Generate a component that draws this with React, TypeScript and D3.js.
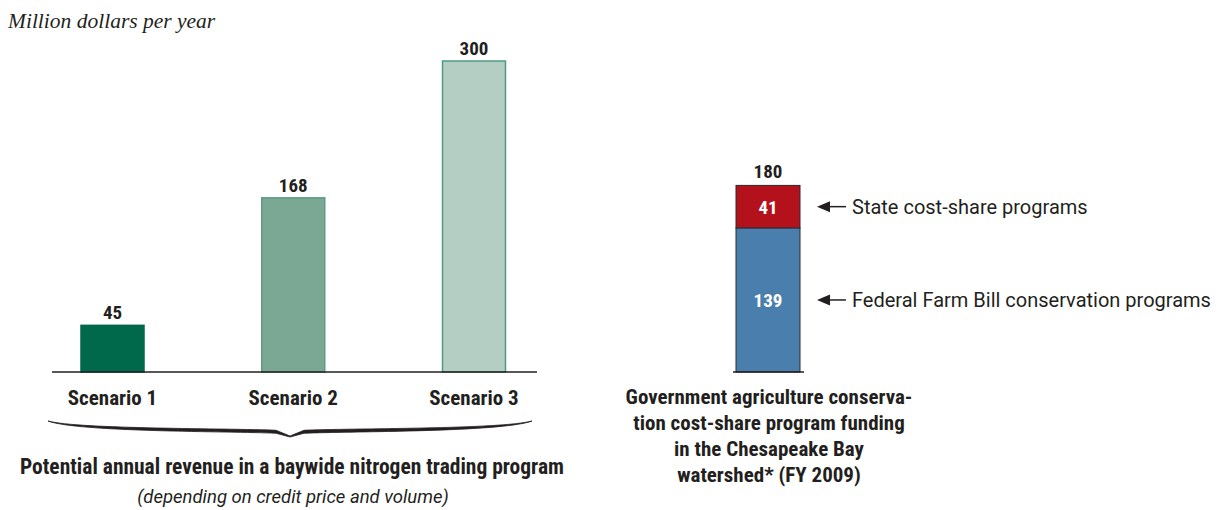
import * as d3 from "d3";

// left chart: potential trading revenue
const scenarios = ["Scenario 1", "Scenario 2", "Scenario 3"];
const revenue = [45, 168, 300];
const scenarioFill = ["#00684b", "#7aa894", "#b4cec4"];
const scenarioStroke = ["#00684b", "#5c9b83", "#4f9a81"];

// right chart: government cost-share funding
const fundingParts = ["Federal Farm Bill conservation programs", "State cost-share programs"];
const fundingValues = [139, 41];
const fundingFill = ["#4a7fad", "#b3121c"];
const fundingTotal = 180;

const captionLines = [
  "Government agriculture conserva-",
  "tion cost-share program funding",
  "in the Chesapeake Bay",
  "watershed* (FY 2009)",
];

const INK = "#231f20";
const COND = "Roboto, 'DejaVu Sans Condensed', sans-serif";

function bracePath(x0: number, x1: number, y: number, h: number) {
  const mid = (x0 + x1) / 2;
  const q = h * 0.55;
  return [
    `M${x0},${y}`,
    `C${x0 + 30},${y + q} ${mid - 60},${y + q - 1} ${mid - 14},${y + q + 1}`,
    `L${mid},${y + h}`,
    `L${mid + 14},${y + q + 1}`,
    `C${mid + 60},${y + q - 1} ${x1 - 30},${y + q} ${x1},${y}`,
    `C${x1 - 30},${y + q + 3} ${mid + 60},${y + q + 2} ${mid + 14},${y + q + 4}`,
    `L${mid},${y + h + 1}`,
    `L${mid - 14},${y + q + 4}`,
    `C${mid - 60},${y + q + 2} ${x0 + 30},${y + q + 3} ${x0},${y}`,
    "Z",
  ].join(" ");
}

const bold = { fontFamily: COND, fontWeight: "bold" as const, fontStretch: "condensed", fill: INK };

export default function App() {
  const W = 1219;
  const H = 510;
  const base = 372;

  const y = d3.scaleLinear().domain([0, 300]).range([base, 61]);
  const x = d3.scalePoint<string>().domain(scenarios).range([112.5, 474]);
  const bw = 64;

  const rx = 768; // right bar centre
  const stack = d3.stack<number[]>().keys(["0", "1"]).value((d, k) => d[+k]);
  const series = stack([fundingValues]);

  return (
    <svg width={W} height={H} style={{ position: "absolute", left: 0, top: 0, background: "#fff" }}>
      <text x={8} y={28} fontFamily="'Liberation Serif', 'Times New Roman', serif" fontStyle="italic" fontSize={21.5} fill={INK}>
        Million dollars per year
      </text>

      {/* scenarios */}
      {scenarios.map((s, i) => (
        <g key={s}>
          <rect
            x={x(s)! - bw / 2 + 0.5}
            y={y(revenue[i])}
            width={bw - 1}
            height={base - y(revenue[i])}
            fill={scenarioFill[i]}
            stroke={scenarioStroke[i]}
            strokeWidth={1.5}
          />
          <text x={x(s)} y={y(revenue[i]) - 6} textAnchor="middle" fontSize={19} {...bold}>
            {revenue[i]}
          </text>
          <text x={x(s)} y={405} textAnchor="middle" fontSize={21} {...bold}>
            {s}
          </text>
        </g>
      ))}
      <line x1={52} x2={537} y1={base} y2={base} stroke={INK} strokeWidth={1.5} />

      <path d={bracePath(48, 532, 421, 15)} fill={INK} stroke={INK} strokeWidth={0.8} />

      <text x={292} y={474} textAnchor="middle" fontSize={21.5} {...bold}>
        Potential annual revenue in a baywide nitrogen trading program
      </text>
      <text x={293} y={503} textAnchor="middle" fontFamily={COND} fontStyle="italic" fontSize={18.5} fill={INK}>
        (depending on credit price and volume)
      </text>

      {/* funding stack */}
      {series.map((sr, i) => {
        const [y0, y1] = sr[0];
        const mid = (y(y0) + y(y1)) / 2;
        return (
          <g key={fundingParts[i]}>
            <rect x={rx - 32} y={y(y1)} width={64} height={y(y0) - y(y1)} fill={fundingFill[i]} stroke="#2b2b2b" strokeWidth={1} />
            <text x={rx} y={mid + 7} textAnchor="middle" fontSize={19} {...bold} fill="#fff">
              {fundingValues[i]}
            </text>
            <line x1={846} x2={826} y1={mid} y2={mid} stroke={INK} strokeWidth={1.5} />
            <path d={`M817,${mid} L830,${mid - 5.5} L830,${mid + 5.5} Z`} fill={INK} />
            <text x={852} y={mid + 7} fontFamily={COND} fontSize={20} fill={INK}>
              {fundingParts[i]}
            </text>
          </g>
        );
      })}
      <text x={rx} y={y(fundingTotal) - 7} textAnchor="middle" fontSize={19} {...bold}>
        {fundingTotal}
      </text>
      <line x1={733} x2={804} y1={base} y2={base} stroke={INK} strokeWidth={1.5} />

      {captionLines.map((l, i) => (
        <text key={l} x={769} y={404 + i * 26} textAnchor="middle" fontSize={21} {...bold}>
          {l}
        </text>
      ))}
    </svg>
  );
}
